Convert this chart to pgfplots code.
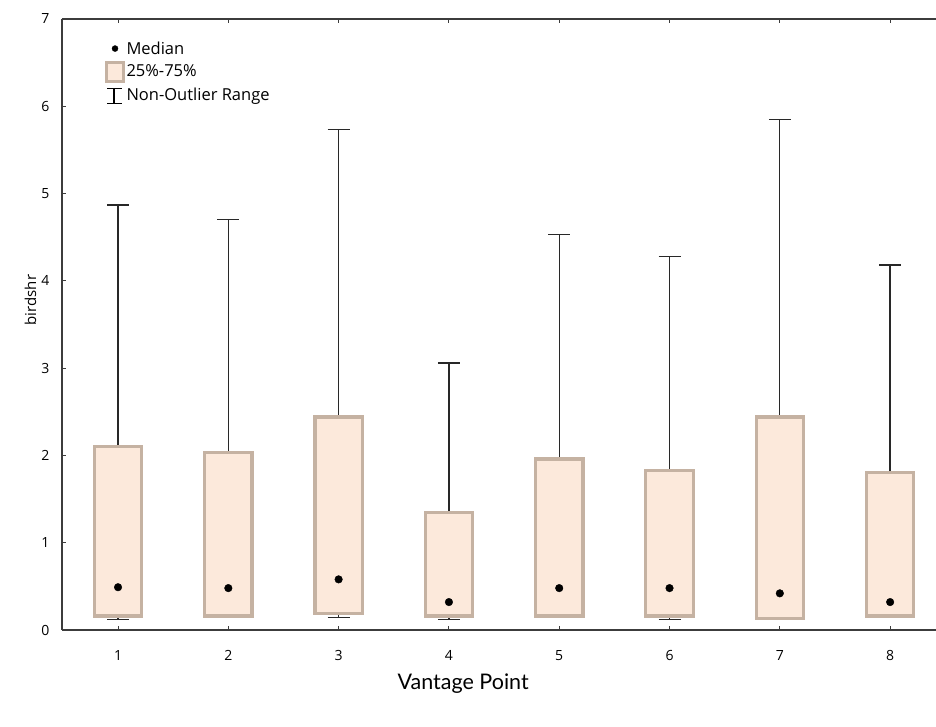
\documentclass[border=0pt]{standalone}
\usepackage{pgfplots}
\pgfplotsset{compat=1.18}
\usepgfplotslibrary{statistics}
\usepackage{fontspec}
\setmainfont{Open Sans}
\newfontfamily\labelfont{Lato}

\definecolor{boxfill}{RGB}{252,233,219}
\definecolor{boxedge}{RGB}{197,178,162}
\definecolor{whisk}{RGB}{40,40,40}
\definecolor{axgray}{RGB}{60,60,60}

\begin{document}
\begin{tikzpicture}
\begin{axis}[
    scale only axis,
    width=874pt, height=611pt,
    xmin=0.492, xmax=8.416,
    ymin=0, ymax=7,
    axis y line*=left,
    xtick={1,...,8}, ytick={0,...,7},
    tick align=inside,
    major tick length=4pt,
    axis line style={axgray, line width=1.3pt},
    tick style={axgray, line width=1pt},
    /pgf/number format/assume math mode=true,
    ticklabel style={font=\fontsize{14}{16}\selectfont},
    xticklabel style={yshift=-17pt},
    yticklabel style={xshift=-9pt},
    ylabel={birdshr},
    ylabel style={at={(axis description cs:-0.036,0.54)}, anchor=center, font=\fontsize{15}{17}\selectfont},
    xlabel={Vantage Point},
    xlabel style={at={(axis description cs:0.459,-0.088)}, anchor=center, font=\labelfont\fontsize{21.5}{26}\selectfont},
    legend style={draw=none, fill=none, at={(axis description cs:0.045,0.970)}, anchor=north west,
        font=\fontsize{16.5}{19}\selectfont, row sep=3pt},
    legend cell align=left,
    boxplot/draw direction=y,
    boxplot/box extend=0.43,
    boxplot/whisker extend=0.2,
    boxplot/every box/.style={draw=boxedge, fill=boxfill, line width=3.2pt},
    boxplot/every whisker/.style={draw=whisk, line width=1.3pt},
    boxplot/draw/median/.code={\fill[black] (boxplot box cs:\pgfplotsboxplotvalue{median},0.5) circle[radius=3.8pt];},
]
% legend entries
\addlegendimage{legend image code/.code={\fill[black] (8pt,0) circle[radius=3pt];}}
\addlegendentry{Median}
\addlegendimage{legend image code/.code={\draw[draw=boxedge, fill=boxfill, line width=3pt] (-1pt,-9.5pt) rectangle (16pt,9.5pt);}}
\addlegendentry{25\%-75\%}
\addlegendimage{legend image code/.code={\draw[black, line width=1.2pt] (7pt,-9pt) -- (7pt,6pt) (0pt,6pt) -- (15pt,6pt) (0pt,-9pt) -- (15pt,-9pt);}}
\addlegendentry{Non-Outlier Range}

% boxes: lower whisker, q1, median, q3, upper whisker
\addplot[forget plot, boxplot prepared={draw position=1, lower whisker=0.12, lower quartile=0.16, median=0.49, upper quartile=2.10, upper whisker=4.87}] coordinates {};
\addplot[forget plot, boxplot prepared={draw position=2, lower whisker=0.14, lower quartile=0.16, median=0.48, upper quartile=2.03, upper whisker=4.70}] coordinates {};
\addplot[forget plot, boxplot prepared={draw position=3, lower whisker=0.14, lower quartile=0.19, median=0.58, upper quartile=2.44, upper whisker=5.73}] coordinates {};
\addplot[forget plot, boxplot prepared={draw position=4, lower whisker=0.12, lower quartile=0.16, median=0.32, upper quartile=1.35, upper whisker=3.06}] coordinates {};
\addplot[forget plot, boxplot prepared={draw position=5, lower whisker=0.14, lower quartile=0.16, median=0.48, upper quartile=1.96, upper whisker=4.53}] coordinates {};
\addplot[forget plot, boxplot prepared={draw position=6, lower whisker=0.12, lower quartile=0.16, median=0.48, upper quartile=1.83, upper whisker=4.28}] coordinates {};
\addplot[forget plot, boxplot prepared={draw position=7, lower whisker=0.12, lower quartile=0.13, median=0.42, upper quartile=2.44, upper whisker=5.85}] coordinates {};
\addplot[forget plot, boxplot prepared={draw position=8, lower whisker=0.14, lower quartile=0.16, median=0.32, upper quartile=1.80, upper whisker=4.18}] coordinates {};
\end{axis}
\pgfresetboundingbox
\path (-62pt,-97pt) rectangle (874pt,630pt);
\end{tikzpicture}
\end{document}
